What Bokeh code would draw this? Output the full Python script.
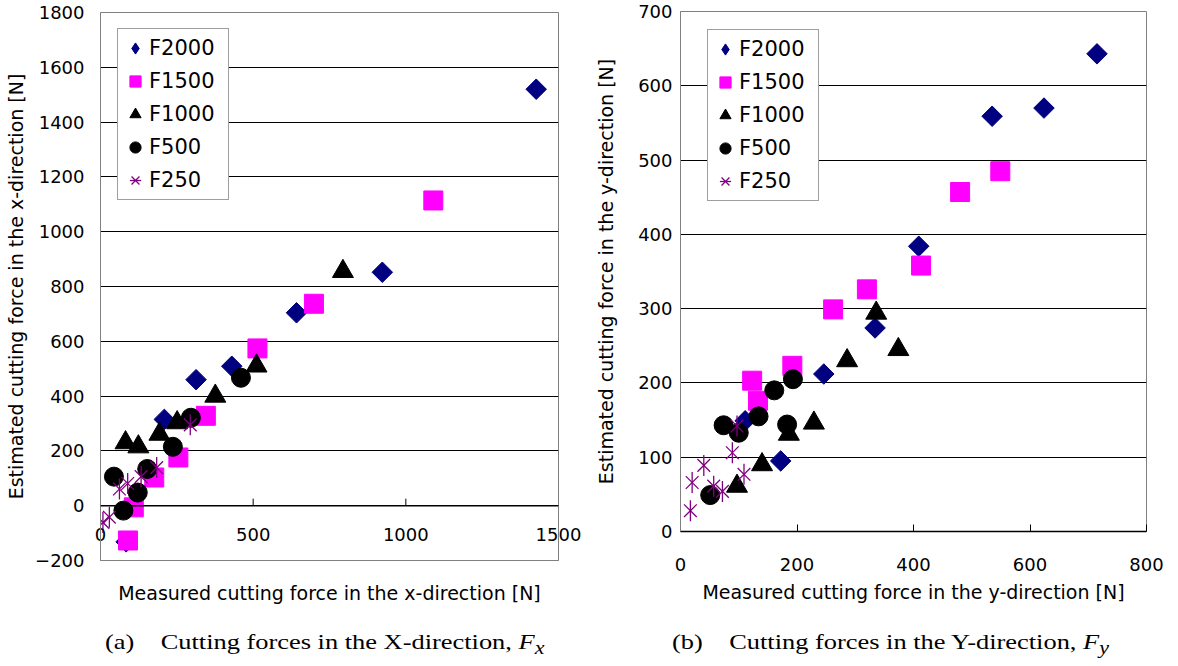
import math
from bokeh.plotting import figure
from bokeh.models import (Legend, LegendItem, Range1d, FixedTicker, Div, Span)
from bokeh.layouts import row, column
from bokeh.embed import file_html
from bokeh.resources import INLINE

series_names = ["F2000", "F1500", "F1000", "F500", "F250"]

# ---------------- (a) X-direction ----------------
fx_f2000_meas = [1427, 923, 642, 430, 313, 209, 84]
fx_f2000_est = [1520, 852, 704, 509, 460, 315, -132]
fx_f1500_meas = [1090, 699, 514, 345, 255, 176, 109, 90]
fx_f1500_est = [1114, 737, 574, 328, 176, 103, -6, -127]
fx_f1000_meas = [794, 511, 376, 251, 193, 124, 82]
fx_f1000_est = [855, 510, 400, 303, 261, 215, 230]
fx_f500_meas = [460, 296, 237, 153, 44, 122, 75]
fx_f500_est = [467, 321, 215, 134, 106, 48, -18]
fx_f250_meas = [294, 184, 133, 89, 62, 29, 8]
fx_f250_est = [295, 139, 106, 81, 61, -42, -61]

# ---------------- (b) Y-direction ----------------
fy_f2000_meas = [715, 624, 535, 409, 334, 246, 111, 172]
fy_f2000_est = [643, 570, 559, 384, 274, 212, 149, 95]
fy_f1500_meas = [549, 480, 413, 320, 262, 192, 123, 133]
fy_f1500_est = [485, 457, 358, 326, 299, 223, 203, 176]
fy_f1000_meas = [336, 374, 286, 229, 186, 140, 97]
fy_f1000_est = [294, 245, 230, 146, 131, 90, 61]
fy_f500_meas = [193, 161, 134, 183, 100, 74, 51]
fy_f500_est = [205, 190, 155, 144, 133, 143, 49]
fy_f250_meas = [97, 109, 89, 72, 57, 40, 20, 17]
fy_f250_est = [142, 77, 106, 54, 61, 89, 66, 28]

# ---------------- axes ----------------
xa_ticks = [0, 500, 1000, 1500]
xa_labels = ["0", "500", "1000", "1500"]
ya_ticks = [-200, 0, 200, 400, 600, 800, 1000, 1200, 1400, 1600, 1800]
ya_labels = ["\u2212200", "0", "200", "400", "600", "800", "1000", "1200", "1400", "1600", "1800"]
xb_ticks = [0, 200, 400, 600, 800]
xb_labels = ["0", "200", "400", "600", "800"]
yb_ticks = [0, 100, 200, 300, 400, 500, 600, 700]
yb_labels = ["0", "100", "200", "300", "400", "500", "600", "700"]

xa_title = "Measured cutting force in the x-direction [N]"
ya_title = "Estimated cutting force in the x-direction [N]"
xb_title = "Measured cutting force in the y-direction [N]"
yb_title = "Estimated cutting force in the y-direction [N]"
cap_a = "(a)&nbsp;&nbsp;&nbsp; Cutting forces in the X-direction, <i>F<sub>x</sub></i>"
cap_b = "(b)&nbsp;&nbsp;&nbsp; Cutting forces in the Y-direction, <i>F<sub>y</sub></i>"

TICK_FONT = "DejaVu Sans"
TITLE_FONT = "DejaVu Sans"
LEG_FONT = "DejaVu Sans"

NAVY = "#000080"
MAGENTA = "#FF00FF"
PURPLE = "#800080"


def make_panel(data, xr, yr, xticks, xlabels, yticks, ylabels, xtitle, ytitle,
               width, height, borders, leg_loc, ylab_standoff, ytitle_standoff,
               cross_axis, xlab_standoff, xtitle_standoff):
    bl, br, bt, bb = borders
    p = figure(width=width, height=height, output_backend="svg", toolbar_location=None,
               x_range=Range1d(*xr), y_range=Range1d(*yr),
               min_border_left=bl, min_border_right=br, min_border_top=bt,
               min_border_bottom=bb)
    p.outline_line_color = "#808080"
    p.outline_line_width = 1
    p.background_fill_color = "white"
    p.border_fill_color = "white"

    # y axis
    p.yaxis.ticker = FixedTicker(ticks=yticks)
    p.yaxis.major_label_overrides = {t: l for t, l in zip(yticks, ylabels)}
    p.yaxis.major_label_text_font = TICK_FONT
    p.yaxis.major_label_text_font_size = "18px"
    p.yaxis.major_label_text_color = "black"
    p.yaxis.major_label_standoff = ylab_standoff
    p.yaxis.major_tick_out = 0
    p.yaxis.major_tick_in = 0
    p.yaxis.minor_tick_out = 0
    p.yaxis.minor_tick_in = 0
    p.yaxis.axis_line_color = "#808080"
    p.yaxis.axis_label = ytitle
    p.yaxis.axis_label_text_font = TITLE_FONT
    p.yaxis.axis_label_text_font_size = "19px"
    p.yaxis.axis_label_text_font_style = "normal"
    p.yaxis.axis_label_text_color = "black"
    p.yaxis.axis_label_standoff = ytitle_standoff

    p.ygrid.ticker = FixedTicker(ticks=yticks)
    p.ygrid.grid_line_color = "#000000"
    p.ygrid.grid_line_width = 1
    p.xgrid.visible = False

    # x axis
    p.xaxis.ticker = FixedTicker(ticks=xticks)
    p.xaxis.major_label_overrides = {t: l for t, l in zip(xticks, xlabels)}
    p.xaxis.major_label_text_font = TICK_FONT
    p.xaxis.major_label_text_font_size = "18px"
    p.xaxis.major_label_text_color = "black"
    p.xaxis.major_label_standoff = xlab_standoff
    p.xaxis.minor_tick_out = 0
    p.xaxis.minor_tick_in = 0
    p.xaxis.major_tick_out = 0
    p.xaxis.axis_label = xtitle
    p.xaxis.axis_label_text_font = TITLE_FONT
    p.xaxis.axis_label_text_font_size = "19px"
    p.xaxis.axis_label_text_font_style = "normal"
    p.xaxis.axis_label_text_color = "black"
    p.xaxis.axis_label_standoff = xtitle_standoff
    if cross_axis:
        # the x axis crosses at y = 0 inside the plot; the frame bottom is plain
        p.xaxis.major_tick_in = 0
        p.xaxis.axis_line_color = "#808080"
        cross = 0
        p.add_layout(Span(location=cross, dimension="width", line_color="black",
                          line_width=1.5))
        frame_h = height - bt - bb
        tick_len = 7 * (yr[1] - yr[0]) / frame_h
        inner = [t for t in xticks if xr[0] < t < xr[1]]
        p.segment(x0=inner, y0=[cross] * len(inner), x1=inner,
                  y1=[cross + tick_len] * len(inner), line_color="black", line_width=1)
    else:
        p.xaxis.major_tick_in = 7
        p.xaxis.major_tick_line_color = "black"
        p.xaxis.axis_line_color = "black"
        p.xaxis.axis_line_width = 1.5

    (m1, e1), (m2, e2), (m3, e3), (m4, e4), (m5, e5) = data
    r1 = p.scatter(m1, e1, marker="square", angle=math.pi / 4, size=14.5,
                   fill_color=NAVY, line_color=NAVY)
    # legend-only twin (size 0 draws nothing; the legend draws its own size, unrotated)
    r1_leg = p.scatter(m1, e1, marker="diamond", size=0, fill_color=NAVY, line_color=NAVY)
    r2 = p.scatter(m2, e2, marker="square", size=19, fill_color=MAGENTA, line_color=MAGENTA)
    r3 = p.scatter(m3, e3, marker="triangle", size=21, fill_color="black", line_color="black")
    r4 = p.scatter(m4, e4, marker="circle", size=19, fill_color="black", line_color="black")
    r5a = p.scatter(m5, e5, marker="x", size=18, line_color=PURPLE, line_width=1.3)
    r5b = p.scatter(m5, e5, marker="dash", angle=math.pi / 2, size=21, line_color=PURPLE,
                    line_width=1.3)

    items = [LegendItem(label=series_names[0], renderers=[r1_leg]),
             LegendItem(label=series_names[1], renderers=[r2]),
             LegendItem(label=series_names[2], renderers=[r3]),
             LegendItem(label=series_names[3], renderers=[r4]),
             LegendItem(label=series_names[4], renderers=[r5a, r5b])]
    leg = Legend(items=items, location=leg_loc, padding=3, spacing=1, margin=0,
                 glyph_width=28, glyph_height=32, label_height=32, label_width=76,
                 label_standoff=0, label_text_font=LEG_FONT, label_text_font_size="21px",
                 label_text_color="black", border_line_color="#404040", border_line_width=1,
                 background_fill_color="white", background_fill_alpha=1.0)
    p.add_layout(leg)
    return p


pa = make_panel([(fx_f2000_meas, fx_f2000_est), (fx_f1500_meas, fx_f1500_est),
                 (fx_f1000_meas, fx_f1000_est), (fx_f500_meas, fx_f500_est),
                 (fx_f250_meas, fx_f250_est)],
                (0, 1500), (-200, 1800), xa_ticks, xa_labels, ya_ticks, ya_labels,
                xa_title, ya_title, 590, 610, (100, 32, 12, 50), (17, 360), 16, 5,
                True, -33, 38)

pb = make_panel([(fy_f2000_meas, fy_f2000_est), (fy_f1500_meas, fy_f1500_est),
                 (fy_f1000_meas, fy_f1000_est), (fy_f500_meas, fy_f500_est),
                 (fy_f250_meas, fy_f250_est)],
                (0, 800), (0, 700), xb_ticks, xb_labels, yb_ticks, yb_labels,
                xb_title, yb_title, 588, 610, (90, 32, 11, 79), (27, 330), 8, 18,
                False, 26, 7)

cap_style = {"font-family": "Liberation Serif", "font-size": "22px", "color": "black",
             "white-space": "nowrap", "transform": "scaleX(1.2)",
             "transform-origin": "left center"}
da = Div(text=cap_a, width=485, height=36, margin=(16, 0, 0, 105), styles=cap_style)
db = Div(text=cap_b, width=506, height=36, margin=(16, 0, 0, 82), styles=cap_style)

layout = row(column(pa, da), column(pb, db))
open("out.html", "w").write(file_html(layout, INLINE))
